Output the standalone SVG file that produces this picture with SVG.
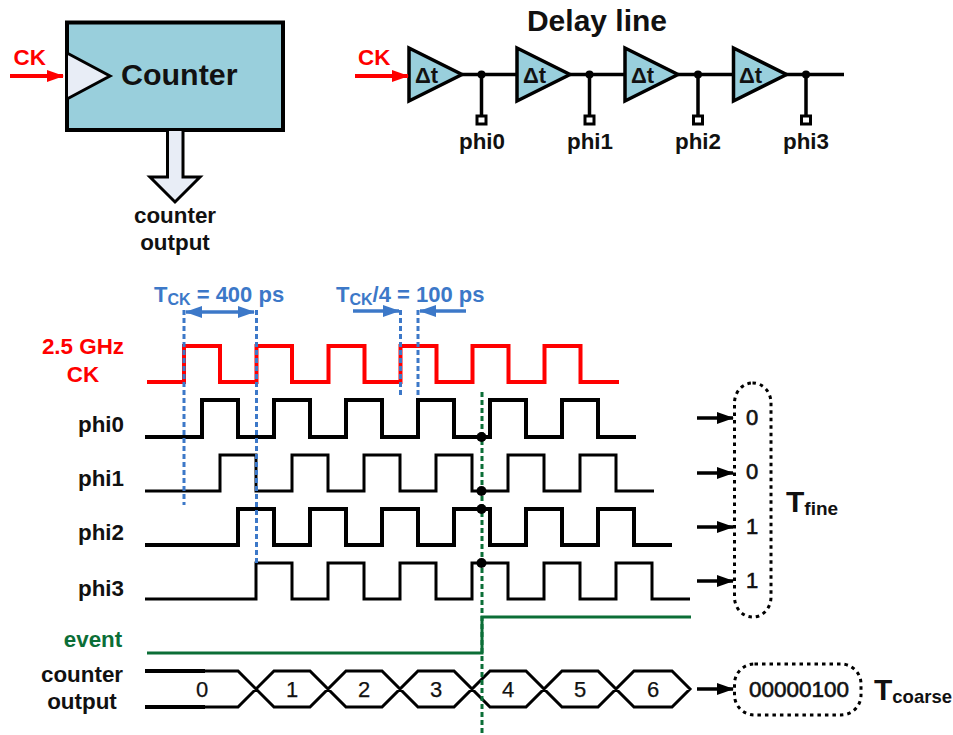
<svg xmlns="http://www.w3.org/2000/svg" width="953" height="735" viewBox="0 0 953 735">
<defs>
<style>
text{font-family:"Liberation Sans",Arial,sans-serif;font-weight:bold;fill:#111}
.c{text-anchor:middle}
.lbl{font-size:22.400px}
.red{fill:#f00}
.blue{fill:#3c78c8}
.num{font-size:22px;font-weight:normal;text-anchor:middle;stroke:#111;stroke-width:.25}
.w{fill:none;stroke:#000;stroke-width:4;stroke-linejoin:miter}
.wt{fill:none;stroke:#000;stroke-width:3}
.box{fill:#99cfdc;stroke:#000;stroke-width:3.5;stroke-linejoin:miter}
.lite{fill:#e8edf6;stroke:#000;stroke-width:3}
.line{fill:none;stroke:#000;stroke-width:3.5}
.dash{fill:none;stroke:#3c78c8;stroke-width:3;stroke-dasharray:5 3}
.pill{fill:none;stroke:#000;stroke-width:3;stroke-dasharray:3.5 4}
</style>
<marker id="ar" markerUnits="userSpaceOnUse" markerWidth="18" markerHeight="14" refX="16" refY="7" orient="auto-start-reverse"><path d="M0 1L17 7L0 13Z" fill="#f00"/></marker>
<marker id="ab" markerUnits="userSpaceOnUse" markerWidth="18" markerHeight="14" refX="16" refY="7" orient="auto-start-reverse"><path d="M0 1L17 7L0 13Z" fill="#000"/></marker>
<marker id="au" markerUnits="userSpaceOnUse" markerWidth="18" markerHeight="14" refX="16" refY="7" orient="auto-start-reverse"><path d="M0 1L17 7L0 13Z" fill="#3c78c8"/></marker>
</defs>

<g id="counter">
<rect x="67" y="22.500" width="216" height="107.500" fill="#99cfdc" stroke="#000" stroke-width="4"/>
<path d="M68 53L110 76L68 99Z" fill="#e8edf6" stroke="none"/>
<path d="M67 53L110 76L67 99" fill="none" stroke="#000" stroke-width="3"/>
<text x="121" y="85" font-size="30.400">Counter</text>
</g>
<g id="counter-output-arrow">
<path class="lite" d="M167.500 131V177H150L175 202L200 177H183V131"/>
<text class="c lbl" x="175" y="223">counter</text>
<text class="c lbl" x="175" y="250">output</text>
</g>
<g id="ck-counter">
<text class="lbl red" x="13.500" y="65">CK</text>
</g>

<text id="delay-title" class="c" x="597" y="31" font-size="30">Delay line</text>
<g id="ck-delay"><text class="lbl red" x="358" y="65">CK</text></g>
<g id="buf0"><path class="box" d="M409 48V101L462 74.500Z"/><text x="415" y="83" font-size="22">Δt</text></g>
<g id="buf1"><path class="box" d="M517 48V101L570 74.500Z"/><text x="523" y="83" font-size="22">Δt</text></g>
<g id="buf2"><path class="box" d="M625 48V101L678 74.500Z"/><text x="631" y="83" font-size="22">Δt</text></g>
<g id="buf3"><path class="box" d="M733.500 48V101L786.500 74.500Z"/><text x="739" y="83" font-size="22">Δt</text></g>
<g id="tap0"><rect x="477" y="116" width="9" height="8" fill="#fff" stroke="#000" stroke-width="3"/><text class="c lbl" x="482" y="149">phi0</text></g>
<g id="tap1"><rect x="585" y="116" width="9" height="8" fill="#fff" stroke="#000" stroke-width="3"/><text class="c lbl" x="590" y="149">phi1</text></g>
<g id="tap2"><rect x="693.500" y="116" width="9" height="8" fill="#fff" stroke="#000" stroke-width="3"/><text class="c lbl" x="698" y="149">phi2</text></g>
<g id="tap3"><rect x="801.500" y="116" width="9" height="8" fill="#fff" stroke="#000" stroke-width="3"/><text class="c lbl" x="806" y="149">phi3</text></g>

<g id="connectors">
<path d="M10 76H63" stroke="#f00" stroke-width="4" fill="none" marker-end="url(#ar)"/>
<path d="M355 76H408" stroke="#f00" stroke-width="4" fill="none" marker-end="url(#ar)"/>
<path class="line" d="M462 74.500H517M570 74.500H625M678 74.500H733M786 74.500H844"/>
<path class="line" d="M481.500 74.500V115M589.500 74.500V115M698 74.500V115M806 74.500V115"/>
<g fill="#000"><circle cx="481.500" cy="74.500" r="4"/><circle cx="589.500" cy="74.500" r="4"/><circle cx="698" cy="74.500" r="4"/><circle cx="806" cy="74.500" r="4"/></g>
<g fill="none" stroke-width="3.500" stroke="#000">
<path d="M697 418H733" marker-end="url(#ab)"/>
<path d="M697 473H733" marker-end="url(#ab)"/>
<path d="M697 527H733" marker-end="url(#ab)"/>
<path d="M697 581H733" marker-end="url(#ab)"/>
<path d="M697 689H733" marker-end="url(#ab)"/>
</g>
</g>

<g id="waveforms">
<path d="M147 382H184V346H220V382H256.500V346H292V382H328.500V346H364.500V382H400.500V346H436.500V382H472.500V346H508.500V382H544.500V346H580.500V382H619" fill="none" stroke="#f00" stroke-width="4"/>
<path class="w" d="M145 437H202V400H238V437H274V400H310V437H346V400H382V437H418V400H454V437H490V400H526V437H562V400H598V437H636"/>
<path class="wt" d="M145 491H220V455H256V491H292V455H328V491H364V455H400V491H436V455H472V491H508V455H544V491H580V455H616V491H654"/>
<path class="w" d="M145 545H238V509H274V545H310V509H346V545H382V509H418V545H454V509H490V545H526V509H562V545H598V509H634V545H672"/>
<path class="wt" d="M145 599H256V563H292V599H328V563H364V599H400V563H436V599H472V563H508V599H544V563H580V599H616V563H652V599H690"/>
<path d="M147 653H482V617H691" fill="none" stroke="#0b6e37" stroke-width="3"/>
<path d="M145 671H205M145 707H205" stroke="#000" stroke-width="4" fill="none"/>
<path class="wt" d="M205 671H238L274 707H310L346 671H382L418 707H454L490 671H526L562 707H598L634 671H672L690 689L672 707H634L598 671H562L526 707H490L454 671H418L382 707H346L310 671H274L238 707H205"/>
</g>

<g id="markers">
<path d="M184 310V505M256.500 310V563M400.500 310V397M418 310V398" class="dash"/>
<path d="M482 392V735" fill="none" stroke="#0b6e37" stroke-width="3" stroke-dasharray="5 3"/>
<g fill="#000"><circle cx="481.500" cy="437" r="5"/><circle cx="481.500" cy="491" r="5"/><circle cx="481.500" cy="509" r="5"/><circle cx="481.500" cy="563" r="5"/></g>
<path d="M186 312H254" fill="none" stroke="#3c78c8" stroke-width="3.500" marker-start="url(#au)" marker-end="url(#au)"/>
<path d="M353 311H399" fill="none" stroke="#3c78c8" stroke-width="3.500" marker-end="url(#au)"/>
<path d="M466 311H420" fill="none" stroke="#3c78c8" stroke-width="3.500" marker-end="url(#au)"/>
</g>

<g id="labels">
<text class="c lbl red" x="83" y="354">2.5 GHz</text>
<text class="c lbl red" x="83" y="382">CK</text>
<text class="c lbl" x="101" y="432">phi0</text>
<text class="c lbl" x="101" y="486">phi1</text>
<text class="c lbl" x="101" y="540">phi2</text>
<text class="c lbl" x="101" y="596">phi3</text>
<text class="c lbl" x="93" y="647" style="fill:#0b6e37">event</text>
<text class="c lbl" x="82" y="682">counter</text>
<text class="c lbl" x="82" y="709">output</text>
<text class="blue" x="154" y="302" font-size="22">T<tspan font-size="16" dy="3">CK</tspan><tspan dy="-3"> = 400 ps</tspan></text>
<text class="blue" x="336" y="302" font-size="22">T<tspan font-size="16" dy="3">CK</tspan><tspan dy="-3">/4 = 100 ps</tspan></text>
<text class="num" x="202" y="696.500">0</text>
<text class="num" x="292" y="696.500">1</text>
<text class="num" x="364" y="696.500">2</text>
<text class="num" x="436" y="696.500">3</text>
<text class="num" x="508" y="696.500">4</text>
<text class="num" x="580" y="696.500">5</text>
<text class="num" x="653" y="696.500">6</text>
</g>

<g id="tfine">
<rect class="pill" x="734.500" y="383" width="36.500" height="234" rx="18" ry="20"/>
<text class="num" x="752" y="425" style="stroke-width:.6">0</text>
<text class="num" x="752" y="479" style="stroke-width:.6">0</text>
<text class="num" x="752" y="534" style="stroke-width:.6">1</text>
<text class="num" x="752" y="588" style="stroke-width:.6">1</text>
<text x="786" y="512" font-size="30">T<tspan font-size="19" dy="3">fine</tspan></text>
</g>
<g id="tcoarse">
<rect class="pill" x="734.500" y="664" width="126.500" height="51" rx="20"/>
<text class="num" x="799" y="696.500" style="stroke-width:.6;font-size:22.500px">00000100</text>
<text x="874" y="700" font-size="30">T<tspan font-size="18.500" dy="3">coarse</tspan></text>
</g>
</svg>
